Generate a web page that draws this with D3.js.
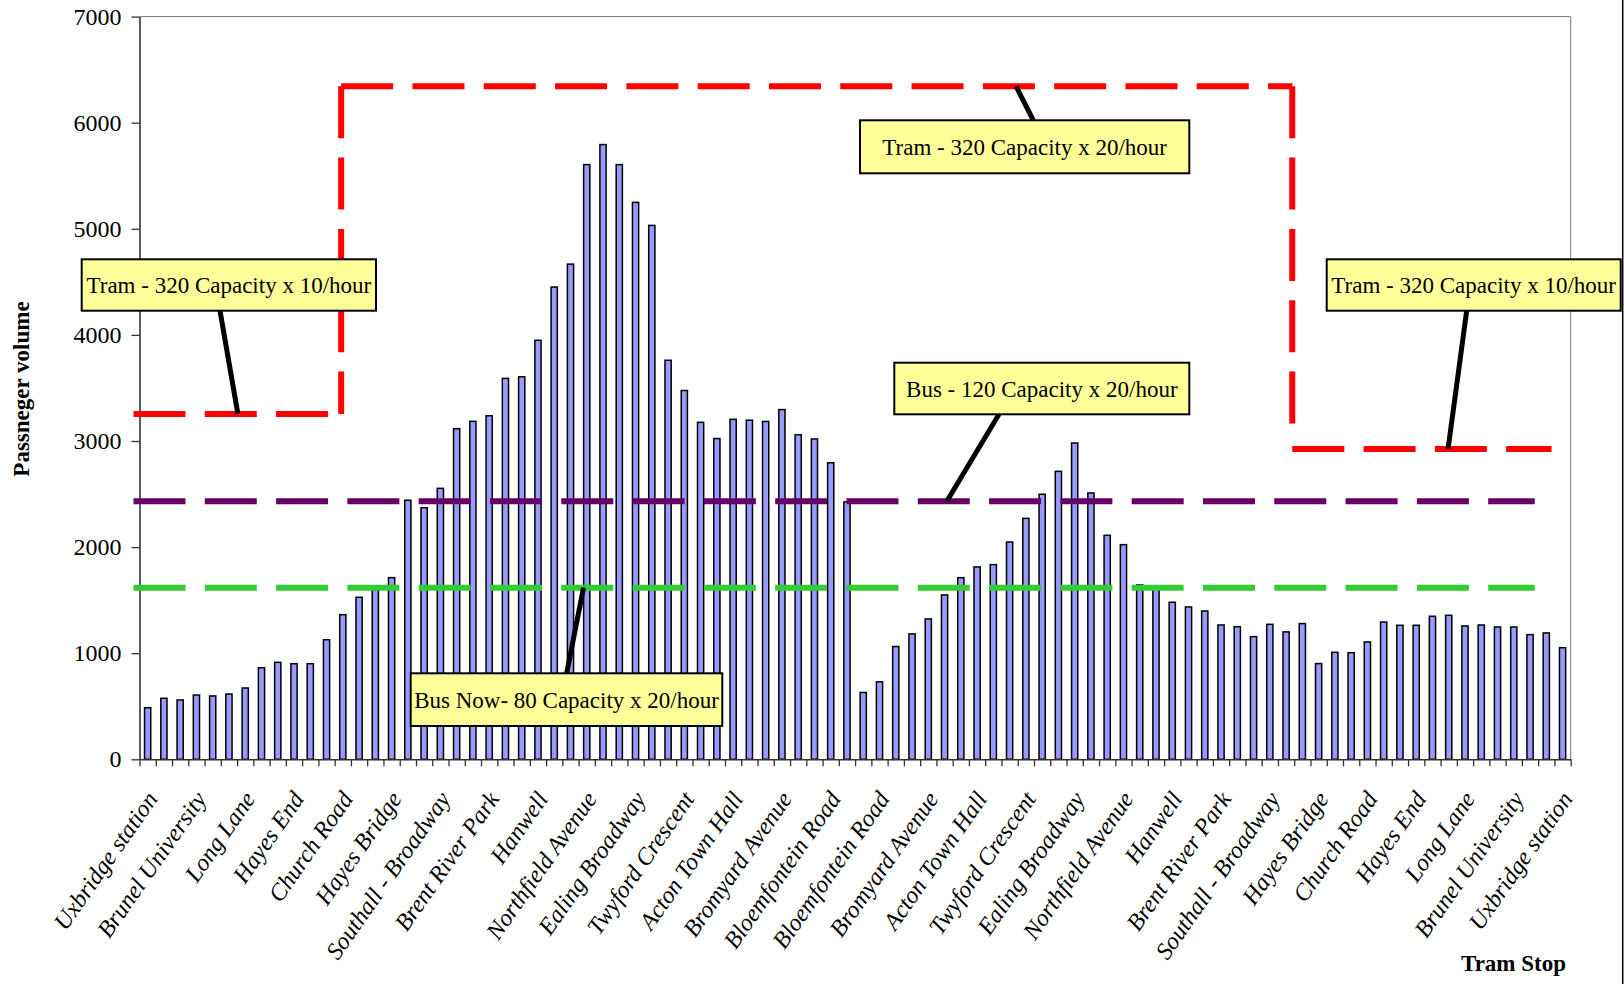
<!DOCTYPE html>
<html>
<head>
<meta charset="utf-8">
<script src="https://cdn.jsdelivr.net/npm/d3@7"></script>
<style>
  body { margin: 0; background: #fff; }
  text { font-family: "Liberation Serif", "Times New Roman", serif; }
</style>
</head>
<body>
<div id="chart"></div>
<script>
//tick labels, one on every third stop:
var tickLabels = ["Uxbridge station", "Brunel University", "Long Lane", "Hayes End", "Church Road",
    "Hayes Bridge", "Southall - Broadway", "Brent River Park", "Hanwell", "Northfield Avenue",
    "Ealing Broadway", "Twyford Crescent", "Acton Town Hall", "Bromyard Avenue", "Bloemfontein Road",
    "Bloemfontein Road", "Bromyard Avenue", "Acton Town Hall", "Twyford Crescent", "Ealing Broadway",
    "Northfield Avenue", "Hanwell", "Brent River Park", "Southall - Broadway", "Hayes Bridge",
    "Church Road", "Hayes End", "Long Lane", "Brunel University", "Uxbridge station"];

//passenger volume per stop:
var volumes = [
    486, 575, 559, 606, 597, 615, 672, 863, 914, 901,
    901, 1127, 1363, 1527, 1600, 1712, 2441, 2371, 2554, 3116,
    3185, 3238, 3590, 3605, 3949, 4451, 4667, 5605, 5794, 5605,
    5249, 5032, 3761, 3476, 3176, 3023, 3204, 3196, 3184, 3296,
    3059, 3019, 2795, 2426, 630, 730, 1063, 1182, 1323, 1549,
    1712, 1813, 1835, 2048, 2271, 2498, 2714, 2981, 2510, 2111,
    2023, 1643, 1630, 1480, 1436, 1398, 1266, 1250, 1156, 1272,
    1201, 1279, 902, 1008, 1005, 1106, 1294, 1263, 1263, 1348,
    1357, 1257, 1266, 1247, 1247, 1175, 1191, 1052];

var stops = d3.range(volumes.length);
var yTicks = [0, 1000, 2000, 3000, 4000, 5000, 6000, 7000];

//capacity lines, [stop position, volume]:
var tramLines = [
    [[-0.37, 3254], [12.4, 3254]],
    [[12.4, 6343], [12.4, 3254]],
    [[12.4, 6343], [70.88, 6343]],
    [[70.88, 6343], [70.88, 3075]],
    [[70.88, 2925], [86.82, 2925]]];
var busLine = [[-0.37, 2432], [85.79, 2432]];
var busNowLine = [[-0.37, 1618], [85.79, 1618]];

//callouts: text and the point on a line that the leader touches
var callouts = [
    {text: "Tram - 320 Capacity x 10/hour", at: [6.05, 3254]},
    {text: "Tram - 320 Capacity x 20/hour", at: [53.9, 6343]},
    {text: "Tram - 320 Capacity x 10/hour", at: [80.46, 2925]},
    {text: "Bus - 120 Capacity x 20/hour", at: [49.64, 2432]},
    {text: "Bus Now- 80 Capacity x 20/hour", at: [27.3, 1618]}];

//box placement (pixels) and leader start on box:
var boxes = [
    {x0: 81.7, x1: 376, y0: 259.3, y1: 310.7, lx: 220, ly: 310.7},
    {x0: 860, x1: 1189.3, y0: 120.3, y1: 173.3, lx: 1033.3, ly: 120.3},
    {x0: 1326.7, x1: 1620.7, y0: 259.3, y1: 310.7, lx: 1466.7, ly: 310.7},
    {x0: 894.3, x1: 1189.3, y0: 362.7, y1: 414.3, lx: 999, ly: 414.3},
    {x0: 410.7, x1: 722.3, y0: 673.3, y1: 726, lx: 566.7, ly: 673.3}];

var width = 1624, height = 984;
var plotLeft = 139.5, plotRight = 1570.7, plotTop = 16.6, plotBottom = 759.3;

var svg = d3.select("#chart").append("svg")
    .attr("width", width)
    .attr("height", height);

svg.append("rect").attr("width", width).attr("height", height).attr("fill", "#fff");

//scales
var x = d3.scaleBand().domain(stops).range([plotLeft, plotRight]);
var xPos = d3.scaleLinear().domain([0, volumes.length]).range([plotLeft, plotRight]);
var y = d3.scaleLinear().domain([0, 7000]).range([plotBottom, plotTop]);

//plot border top/right
svg.append("path")
    .attr("d", "M" + plotLeft + "," + plotTop + "H" + plotRight + "V" + plotBottom)
    .attr("fill", "none")
    .attr("stroke", "#777")
    .attr("stroke-width", 1);

//bars
var barW = 6.2;
svg.selectAll(".bar")
    .data(volumes)
    .enter().append("rect")
    .attr("class", "bar")
    .attr("x", function (d, i) { return x(i) + x.bandwidth() / 2 - barW / 2; })
    .attr("y", function (d) { return y(d); })
    .attr("width", barW)
    .attr("height", function (d) { return plotBottom - y(d); })
    .attr("fill", "#9999FF")
    .attr("stroke", "#000")
    .attr("stroke-width", 1.5);

//axes
var yAxis = d3.axisLeft(y).tickValues(yTicks).tickFormat(d3.format("d"))
    .tickSize(8).tickSizeOuter(0).tickPadding(10);
var gy = svg.append("g")
    .attr("transform", "translate(" + plotLeft + ",0)")
    .call(yAxis);
gy.selectAll("text").attr("font-size", 24).attr("fill", "#000")
    .style("font-family", "'Liberation Serif', serif");
gy.selectAll("line").attr("stroke", "#333").attr("stroke-width", 1.3);
gy.select(".domain").attr("stroke", "#333").attr("stroke-width", 1.6);

var xAxis = d3.axisBottom(xPos).tickValues(d3.range(volumes.length + 1))
    .tickFormat("").tickSize(7).tickSizeOuter(0);
var gx = svg.append("g")
    .attr("transform", "translate(0," + plotBottom + ")")
    .call(xAxis);
gx.selectAll("line").attr("stroke", "#333").attr("stroke-width", 1.3);
gx.select(".domain").attr("stroke", "#333").attr("stroke-width", 1.6);

//category labels
svg.selectAll(".cat")
    .data(tickLabels)
    .enter().append("text")
    .attr("class", "cat")
    .attr("transform", function (d, i) {
        var cx = x(i * 3) + x.bandwidth() / 2;
        return "translate(" + (cx + 11) + "," + 799 + ") rotate(-55)";
    })
    .attr("text-anchor", "end")
    .attr("font-size", 24)
    .attr("font-style", "italic")
    .text(function (d) { return d; });

//capacity lines
var line = d3.line()
    .x(function (d) { return xPos(d[0]); })
    .y(function (d) { return y(d[1]); });

function dashed(pts, color) {
    svg.append("path")
        .attr("d", line(pts))
        .attr("fill", "none")
        .attr("stroke", color)
        .attr("stroke-width", 6)
        .attr("stroke-dasharray", "52,19.3");
}
dashed(busNowLine, "#33CC33");
dashed(busLine, "#660066");
tramLines.forEach(function (seg) { dashed(seg, "#FF0000"); });

//callouts
callouts.forEach(function (c, i) {
    var b = boxes[i];
    svg.append("line")
        .attr("x1", b.lx).attr("y1", b.ly)
        .attr("x2", xPos(c.at[0])).attr("y2", y(c.at[1]))
        .attr("stroke", "#000")
        .attr("stroke-width", 5);
    svg.append("rect")
        .attr("x", b.x0).attr("y", b.y0)
        .attr("width", b.x1 - b.x0).attr("height", b.y1 - b.y0)
        .attr("fill", "#FFFF99")
        .attr("stroke", "#000")
        .attr("stroke-width", 2);
    svg.append("text")
        .attr("x", (b.x0 + b.x1) / 2)
        .attr("y", (b.y0 + b.y1) / 2 + 8)
        .attr("text-anchor", "middle")
        .attr("font-size", 23)
        .text(c.text);
});

//axis titles
svg.append("text")
    .attr("transform", "translate(29,389) rotate(-90)")
    .attr("text-anchor", "middle")
    .attr("font-size", 23)
    .attr("font-weight", "bold")
    .text("Passneger volume");

svg.append("text")
    .attr("x", 1566)
    .attr("y", 971)
    .attr("text-anchor", "end")
    .attr("font-size", 23)
    .attr("font-weight", "bold")
    .text("Tram Stop");

//outer chart border (right edge visible)
svg.append("line")
    .attr("x1", 1622.7).attr("x2", 1622.7)
    .attr("y1", 0).attr("y2", height)
    .attr("stroke", "#000")
    .attr("stroke-width", 1.5);
</script>
</body>
</html>
